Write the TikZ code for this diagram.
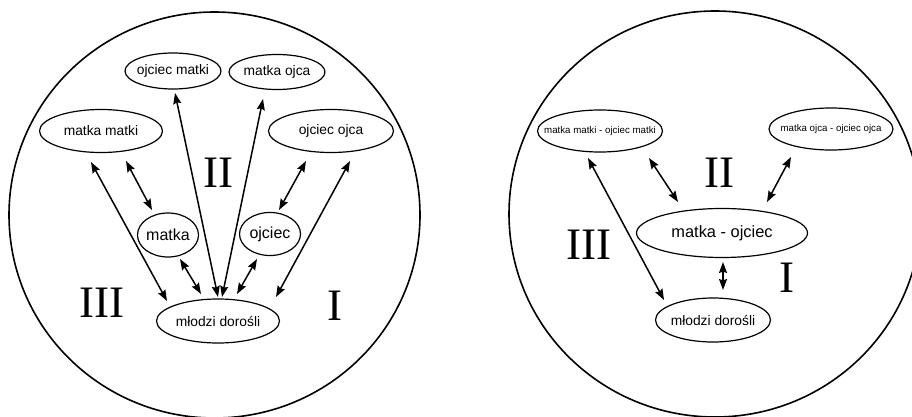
\documentclass[tikz,border=0pt]{standalone}
\usepackage{fontspec}
\setmainfont{Liberation Sans}
\newfontfamily\numfont{Liberation Serif}
\usetikzlibrary{shapes.geometric,arrows.meta,calc}
\begin{document}
\begin{tikzpicture}[x=1pt,y=-1pt,
  ell/.style={draw,ellipse,line width=1.2pt,inner sep=-20pt},
  dbl/.style={{Stealth[length=11pt,width=8pt,inset=1.5pt]}-{Stealth[length=11pt,width=8pt,inset=1.5pt]},line width=1.5pt},
  num/.style={font=\numfont\fontsize{45}{45}\selectfont,inner sep=0pt},
  fa/.style={font=\fontsize{13.8}{15}\selectfont},
  fb/.style={font=\fontsize{16}{18}\selectfont},
  fc/.style={font=\fontsize{9.7}{11}\selectfont}
]
\useasboundingbox (0,0) rectangle (912,417);
\clip (0,0) rectangle (912,417);
\fill[white] (0,0) rectangle (912,417);
% outer circles
\draw[line width=1.6pt] (214.5,215) ellipse [x radius=205.5, y radius=203];
\draw[line width=1.6pt] (715,214) ellipse [x radius=206, y radius=203];

% ---------- left diagram ----------
\node[ell,fa,minimum width=96pt,minimum height=36pt] (om) at (173,71) {ojciec matki};
\node[ell,fa,minimum width=96pt,minimum height=35pt] (mo) at (277,72) {matka ojca};
\node[ell,fa,minimum width=123pt,minimum height=43pt] (mm) at (101,131) {matka matki};
\node[ell,fa,minimum width=125pt,minimum height=43pt] (oo) at (331,131) {ojciec ojca};
\node[ell,fb,minimum width=61pt,minimum height=44pt] (ma) at (168,235) {matka};
\node[ell,fb,minimum width=61pt,minimum height=43pt] (oj) at (270,234) {ojciec};
\node[ell,fa,minimum width=123pt,minimum height=44pt] (md) at (218,321) {młodzi dorośli};

\node[num] (n2l) at (218,173) {II};
\node[num] (n3l) at (102,303) {III};
\node[num] (n1l) at (335,306) {I};

\draw[dbl] ($(mm.center)+(-10,31)$) -- ($(md.center)+(-51,-20)$);
\draw[dbl] ($(mm.center)+(25,30)$) -- ($(ma.center)+(-16,-25)$);
\draw[dbl] ($(om.center)+(2,22)$) -- ($(md.center)+(0,-24)$);
\draw[dbl] ($(mo.center)+(-14,27)$) -- ($(md.center)+(4,-24)$);
\draw[dbl] ($(oo.center)+(-25,30)$) -- ($(oj.center)+(9,-24)$);
\draw[dbl] ($(oo.center)+(19,30)$) -- ($(md.center)+(58,-24)$);
\draw[dbl] ($(ma.center)+(12,24)$) -- ($(md.center)+(-17,-27)$);
\draw[dbl] ($(oj.center)+(-13,25)$) -- ($(md.center)+(19,-27)$);

% ---------- right diagram ----------
\node[ell,fc,minimum width=125pt,minimum height=42pt] (L) at (600,131) {matka matki - ojciec matki};
\node[ell,fc,minimum width=124pt,minimum height=42pt] (R) at (831,129) {matka ojca - ojciec ojca};
\node[ell,font=\fontsize{16.4}{18}\selectfont,minimum width=171pt,minimum height=49pt] (MO) at (722,233) {matka - ojciec};
\node[ell,fa,minimum width=115pt,minimum height=44pt] (MD) at (713,320) {młodzi dorośli};

\node[num] (n2r) at (719,173) {II};
\node[num] (n3r) at (589,245) {III};
\node[num] (n1r) at (787,278) {I};

\draw[dbl] ($(L.center)+(49,27)$) -- ($(MO.center)+(-44,-31)$);
\draw[dbl] ($(R.center)+(-40,28)$) -- ($(MO.center)+(45,-31)$);
\draw[dbl] ($(L.center)+(-12,27)$) -- ($(MD.center)+(-49,-20)$);
\draw[dbl] ($(MO.center)+(1,29)$) -- ($(MD.center)+(10,-30)$);
\end{tikzpicture}
\end{document}
